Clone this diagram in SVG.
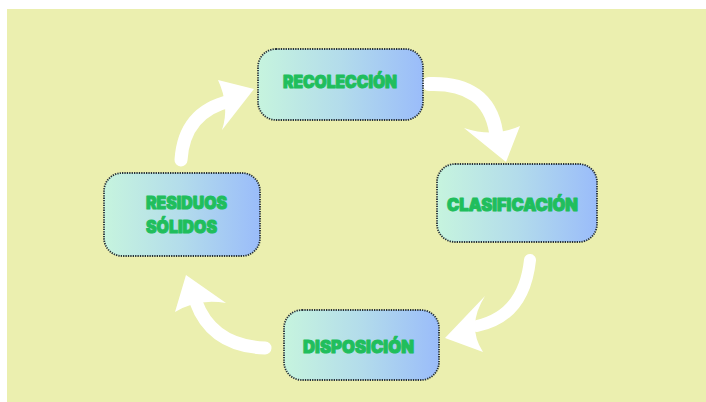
<svg xmlns="http://www.w3.org/2000/svg" width="706" height="402" viewBox="0 0 706 402">
<defs>
<linearGradient id="g" x1="0" y1="0" x2="1" y2="0">
<stop offset="0" stop-color="#C6F4DE"/>
<stop offset="0.5" stop-color="#B3DCEB"/>
<stop offset="1" stop-color="#9ABCFA"/>
</linearGradient>
<style>
.box{fill:url(#g);stroke:#263038;stroke-width:1.8;stroke-dasharray:1.3 1.1}
.t{font-family:Inter,Lato,"Liberation Sans",sans-serif;font-weight:900;font-size:17px;fill:#20BE5C;stroke:#20BE5C;stroke-width:1;stroke-linejoin:round}
.sh{fill:none;stroke:#FFFFFF;stroke-linecap:round}
.hd{fill:#FFFFFF}
</style>
</defs>
<rect x="0" y="0" width="706" height="402" fill="#FFFFFF"/>
<rect x="7" y="9" width="699" height="393" fill="#EBEFAF"/>
<g id="connectors">
<path class="sh" stroke-width="13" d="M181,160 Q184,112 230,101"/>
<path class="hd" d="M218,80 L254,89 L222,130 Q230,106 218,80 Z"/>
<path class="sh" stroke-width="14" d="M429,84 Q488,82 496,132"/>
<path class="hd" d="M464,128 L506,162 L520,126 Q494,138 464,128 Z"/>
<path class="sh" stroke-width="12" d="M530,260 Q524,316 477,326"/>
<path class="hd" d="M485,296 L445,338 L483,352 Q466,326 485,296 Z"/>
<path class="sh" stroke-width="13" d="M265,348 Q212,346 196,302"/>
<path class="hd" d="M175,312 L186,275 L226,303 Q198,298 175,312 Z"/>
</g>
<g id="recoleccion">
<rect class="box" x="258" y="49" width="165" height="71" rx="18"/>
<text class="t" x="283" y="88" textLength="114" lengthAdjust="spacingAndGlyphs">RECOLECCIÓN</text>
</g>
<g id="clasificacion">
<rect class="box" x="437" y="164" width="160" height="78" rx="18"/>
<text class="t" x="447" y="211" textLength="131" lengthAdjust="spacingAndGlyphs">CLASIFICACIÓN</text>
</g>
<g id="disposicion">
<rect class="box" x="284" y="310" width="155" height="70" rx="18"/>
<text class="t" x="303" y="353" textLength="111" lengthAdjust="spacingAndGlyphs">DISPOSICIÓN</text>
</g>
<g id="residuos">
<rect class="box" x="104" y="173" width="156" height="83" rx="18"/>
<text class="t" x="146" y="209" textLength="81" lengthAdjust="spacingAndGlyphs">RESIDUOS</text>
<text class="t" x="146" y="233" textLength="71" lengthAdjust="spacingAndGlyphs">SÓLIDOS</text>
</g>
</svg>
